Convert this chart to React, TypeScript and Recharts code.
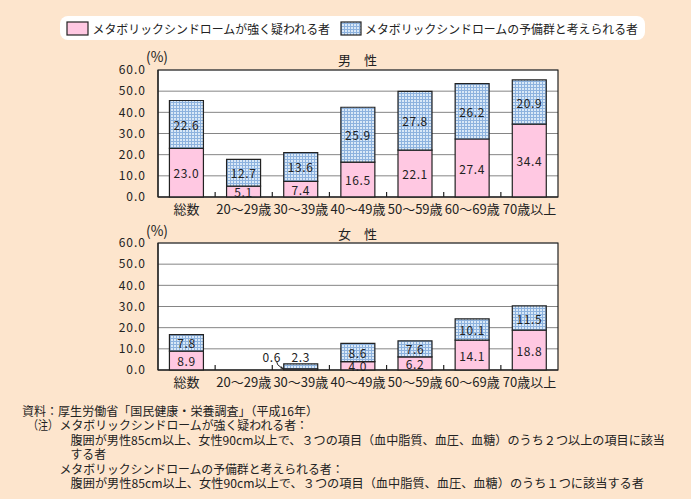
import { Bar, BarChart, CartesianGrid, LabelList, ReferenceArea, XAxis, YAxis } from "recharts";

const categories = ["総数", "20～29歳", "30～39歳", "40～49歳", "50～59歳", "60～69歳", "70歳以上"];
const maleStrong = [23.0, 5.1, 7.4, 16.5, 22.1, 27.4, 34.4];
const maleReserve = [22.6, 12.7, 13.6, 25.9, 27.8, 26.2, 20.9];
const femaleStrong = [8.9, null, 0.6, 4.0, 6.2, 14.1, 18.8];
const femaleReserve = [7.8, null, 2.3, 8.6, 7.6, 10.1, 11.5];
const yTicks = [0, 10, 20, 30, 40, 50, 60];

const legendStrong = "メタボリックシンドロームが強く疑われる者";
const legendReserve = "メタボリックシンドロームの予備群と考えられる者";

const BG = "#FDE5CD";
const PINK = "#FFC8E2";
const INK = "#222";
const GRID = "#858585";
const FONT = '"Noto Sans CJK JP", "Noto Sans", sans-serif';

const rows = (strong: (number | null)[], reserve: (number | null)[]) =>
  categories.map((name, i) => ({ name, strong: strong[i], reserve: reserve[i] }));

function XTick(props: any) {
  const { x, y, payload, index } = props;
  const half = typeof payload.offset === "number" && payload.offset > 0 ? payload.offset : 400 / 7 / 2;
  return (
    <g>
      {index > 0 && <line x1={x - half} x2={x - half} y1={y} y2={y - 5} stroke={INK} strokeWidth={1.2} />}
      <text x={x} y={y + 11} textAnchor="middle" dominantBaseline="central" fontSize={13} fill={INK} fontFamily={FONT}>
        {payload.value}
      </text>
    </g>
  );
}

const segLabel = (kind: "strong" | "reserve") => (p: any) => {
  const { x, y, width, height, value } = p;
  if (value == null) return null;
  const txt = Number(value).toFixed(1);
  const common = { textAnchor: "middle" as const, dominantBaseline: "central" as const, fontSize: 12, fill: INK, fontFamily: FONT, letterSpacing: 0.6 };
  if (height >= 6) return <text x={x + width / 2} y={y + height / 2} {...common}>{txt}</text>;
  if (kind === "reserve") return <text x={x + width / 2} y={y - 7} {...common}>{txt}</text>;
  return (
    <g>
      <text x={x - 12} y={y - 12} {...common}>{txt}</text>
      <path d={`M ${x - 7} ${y - 7} L ${x - 6} ${y - 4} L ${x - 1} ${y}`} fill="none" stroke={INK} strokeWidth={1} />
      <path d={`M ${x} ${y + 0.5} L ${x - 3.5} ${y - 0.5} L ${x - 2} ${y - 2.5} Z`} fill={INK} />
    </g>
  );
};

function Panel({ data, top }: { data: any[]; top: number }) {
  return (
    <div style={{ position: "absolute", left: 0, top }}>
      <BarChart width={600} height={169} data={data} margin={{ top: 18, right: 42, bottom: 0, left: 0 }} barCategoryGap="20%">
        <CartesianGrid vertical={false} stroke={GRID} fill="#fff" />
        <XAxis
          dataKey="name"
          interval={0}
          height={24}
          tickSize={0}
          tickMargin={0}
          tickLine={false}
          axisLine={{ stroke: INK, strokeWidth: 1.2 }}
          tick={<XTick />}
        />
        <YAxis
          width={158}
          domain={[0, 60]}
          ticks={yTicks}
          interval={0}
          tickLine={false}
          tickMargin={6}
          axisLine={{ stroke: INK, strokeWidth: 1.2 }}
          tickFormatter={(v: number) => v.toFixed(1)}
          tick={{ fontSize: 12, fill: INK, fontFamily: FONT, letterSpacing: 1 }}
        />
        <Bar dataKey="strong" stackId="a" fill={PINK} stroke={INK} strokeWidth={1.2} isAnimationActive={false}>
          <LabelList dataKey="strong" content={segLabel("strong")} />
        </Bar>
        <Bar dataKey="reserve" stackId="a" fill="url(#meshBlue)" stroke={INK} strokeWidth={1.2} isAnimationActive={false}>
          <LabelList dataKey="reserve" content={segLabel("reserve")} />
        </Bar>
        <ReferenceArea y1={0} y2={60} fill="none" fillOpacity={0} stroke={INK} strokeWidth={1.2} />
      </BarChart>
    </div>
  );
}

const notes: { x: number; y: number; len: number; t: string }[] = [
  { x: 22, y: 410, len: 296, t: "資料：厚生労働省「国民健康・栄養調査」（平成16年）" },
  { x: 28, y: 424.5, len: 30, t: "（注）" },
  { x: 59.5, y: 424.5, len: 248.5, t: "メタボリックシンドロームが強く疑われる者：" },
  { x: 70.5, y: 439, len: 594.5, t: "腹囲が男性85cm以上、女性90cm以上で、３つの項目（血中脂質、血圧、血糖）のうち２つ以上の項目に該当" },
  { x: 70.5, y: 453.5, len: 35.5, t: "する者" },
  { x: 59.5, y: 468, len: 284, t: "メタボリックシンドロームの予備群と考えられる者：" },
  { x: 70.5, y: 482.5, len: 573.5, t: "腹囲が男性85cm以上、女性90cm以上で、３つの項目（血中脂質、血圧、血糖）のうち１つに該当する者" },
];

export default function App() {
  const txt = { fontSize: 12, fill: INK, fontFamily: FONT, dominantBaseline: "central" as const };
  return (
    <div style={{ position: "absolute", left: 0, top: 0, width: 691, height: 499, background: BG, overflow: "hidden" }}>
      <svg width={691} height={499} style={{ position: "absolute", left: 0, top: 0 }}>
        <defs>
          <pattern id="meshBlue" width={3} height={3} patternUnits="userSpaceOnUse">
            <rect width={3} height={3} fill="#8DB2DE" />
            <rect width={2} height={2} fill="#D9E8F7" />
          </pattern>
        </defs>
        <rect x={60} y={16} width={585} height={24} rx={8} fill="#fff" />
        <rect x={67} y={22} width={21} height={13} fill={PINK} stroke={INK} strokeWidth={1.2} />
        <text x={92.5} y={28.5} textLength={237.5} lengthAdjust="spacingAndGlyphs" {...txt}>{legendStrong}</text>
        <rect x={341} y={22} width={20} height={13} fill="url(#meshBlue)" stroke={INK} strokeWidth={1.2} />
        <text x={365} y={28.5} textLength={273} lengthAdjust="spacingAndGlyphs" {...txt}>{legendReserve}</text>

        <text x={146} y={56} textLength={22} lengthAdjust="spacingAndGlyphs" {...txt} fontSize={14}>(%)</text>
        <text x={357.5} y={59} textAnchor="middle" {...txt} fontSize={13}>男　性</text>
        <text x={146} y={230} textLength={22} lengthAdjust="spacingAndGlyphs" {...txt} fontSize={14}>(%)</text>
        <text x={357.5} y={233} textAnchor="middle" {...txt} fontSize={13}>女　性</text>

        {notes.map((n, i) => (
          <text key={i} x={n.x} y={n.y} textLength={n.len} lengthAdjust="spacingAndGlyphs" {...txt}>{n.t}</text>
        ))}
      </svg>
      <Panel data={rows(maleStrong, maleReserve)} top={52} />
      <Panel data={rows(femaleStrong, femaleReserve)} top={225} />
    </div>
  );
}
